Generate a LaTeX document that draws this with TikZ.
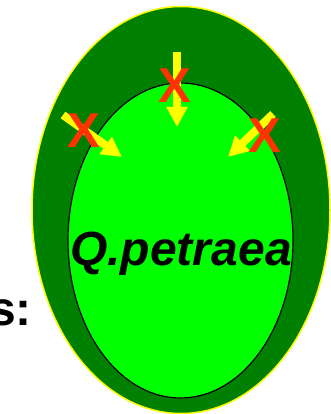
\documentclass[tikz,border=0pt]{standalone}
\usepackage{fontspec}
\setmainfont{Liberation Sans}
\usetikzlibrary{arrows.meta}
\definecolor{darkgreen}{RGB}{0,128,0}
\definecolor{lightgreen}{RGB}{0,255,0}
\definecolor{xred}{RGB}{255,51,0}
\definecolor{ylw}{RGB}{255,255,0}
\begin{document}
\begin{tikzpicture}[x=1pt,y=-1pt,
  outer/.style={fill=darkgreen,draw=ylw,line width=1.5pt},
  inner/.style={fill=lightgreen,draw=black,line width=1.2pt},
  blockarrow/.style={draw=ylw,line width=8pt,-{Triangle[width=20pt,length=20pt]}},
  cross/.style={text=xred,inner sep=0pt,font=\fontsize{49}{49}\selectfont\bfseries},
  label/.style={inner sep=0pt,font=\fontsize{48}{48}\selectfont\bfseries}]
\useasboundingbox (0,0) rectangle (331,414);
\draw[outer] (181,210) ellipse [x radius=149, y radius=203.5];
\draw[inner] (180.5,240.5) ellipse [x radius=112.5, y radius=157.5];
\coordinate (ts) at (177,52);
\coordinate (te) at (177,127);
\coordinate (ls) at (63,115);
\coordinate (le) at (122,157);
\coordinate (rs) at (273,114);
\coordinate (re) at (228,157);
\draw[blockarrow] (ts) -- (te);
\draw[blockarrow] (ls) -- (le);
\draw[blockarrow] (rs) -- (re);
\node[cross] (xt) at (175,86) {X};
\node[cross] (xl) at (84,131) {X};
\node[cross] (xr) at (265,136) {X};
\node[label,anchor=base] (q) at (181,265) {\itshape Q.petraea};
\node[label,anchor=base east] (s) at (32,325) {s:};
\end{tikzpicture}
\end{document}
